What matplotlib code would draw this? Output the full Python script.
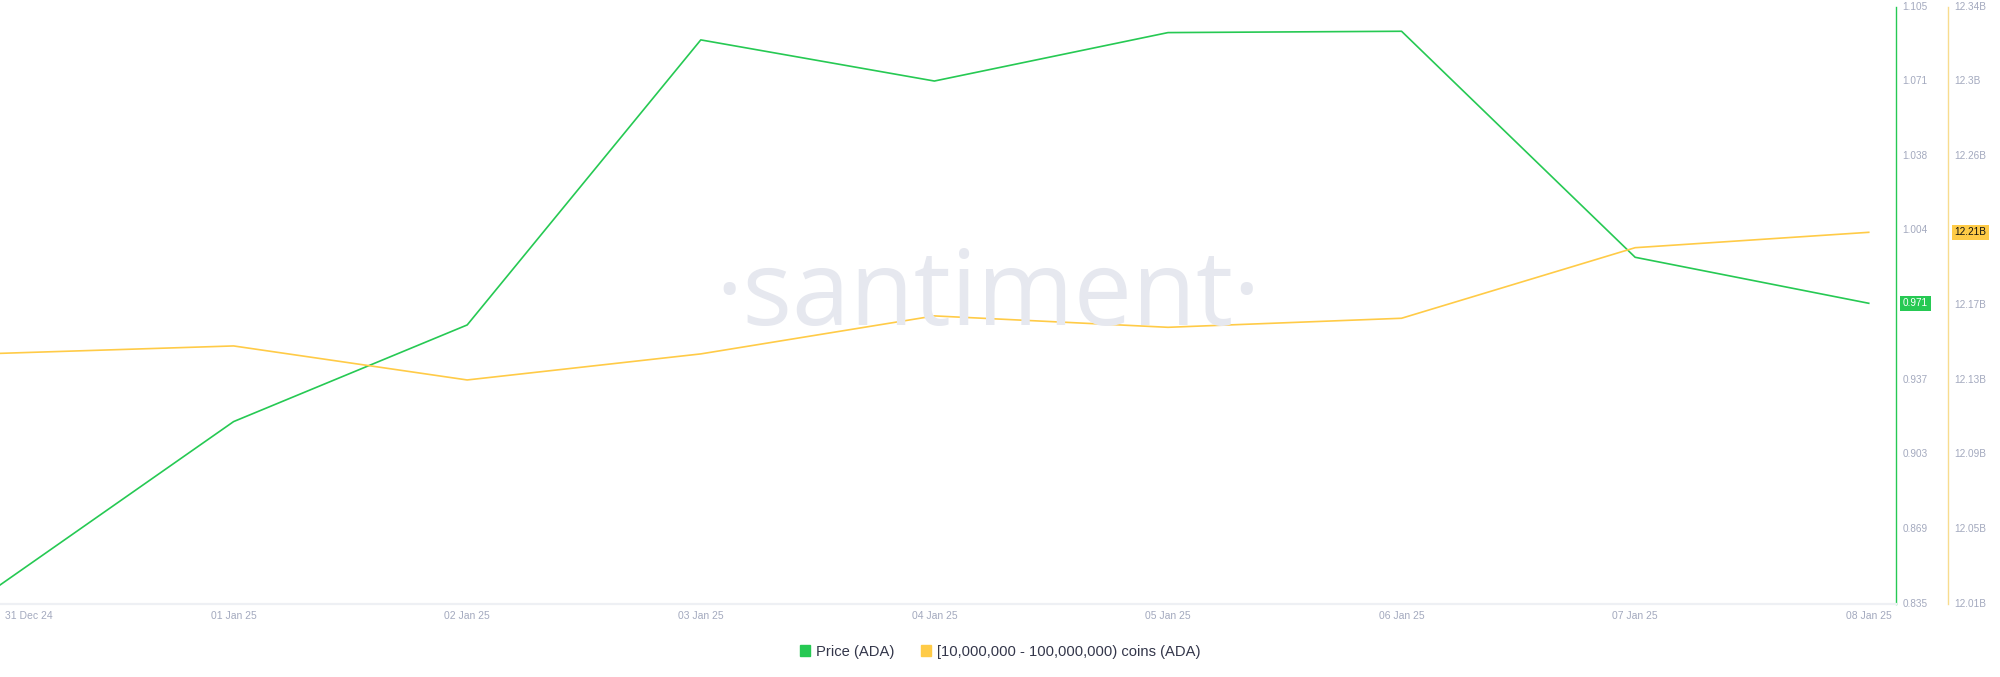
import numpy as np
import pandas as pd
import matplotlib
matplotlib.use("Agg")
from matplotlib import pyplot as plt
from matplotlib.patches import Patch
from matplotlib.transforms import ScaledTranslation
import matplotlib.dates as mdates

dates = pd.date_range("2024-12-31", "2025-01-08", freq="D")
price = [0.8434, 0.9173, 0.9610, 1.0899, 1.0713, 1.0932, 1.0938, 0.9916, 0.9708]
coins = [12.1483, 12.1524, 12.1336, 12.1480, 12.1690, 12.1627, 12.1677, 12.2067, 12.2152]
price_ticks = ["0.835", "0.869", "0.903", "0.937", "0.971", "1.004", "1.038", "1.071", "1.105"]
coin_ticks = ["12.01B", "12.05B", "12.09B", "12.13B", "12.17B", "12.21B", "12.26B", "12.3B", "12.34B"]
price_label = "0.971"
coin_label = "12.21B"

green = "#26c953"
yellow = "#ffcb47"
tick_color = "#a3a9be"

plt.rcParams['font.family'] = ['Liberation Sans', 'DejaVu Sans']

W, H = 2000, 677
fig = plt.figure(figsize=(W / 100, H / 100), dpi=100)
top, bottom, right = 6.5, 603.6, 1896
ax = fig.add_axes([0, 1 - bottom / H, right / W, (bottom - top) / H])
ax2 = ax.twinx()

ax.plot(dates, price, color=green, lw=1.2, zorder=3)
ax2.plot(dates, np.array(coins) * 1e9, color=yellow, lw=1.2, zorder=3)

ax.set_xlim(dates[0], dates[-1] + pd.Timedelta(hours=2.8))
ax.set_ylim(0.835, 1.105)
ax2.set_ylim(12.01e9, 12.34e9)

for a in (ax, ax2):
    for s in ("top", "left", "bottom", "right"):
        a.spines[s].set_visible(False)

ax.spines["bottom"].set_visible(True)
ax.spines["bottom"].set_color("#eef0f4")
ax.spines["bottom"].set_linewidth(1.6)

ax.yaxis.tick_right()
ax.spines["right"].set_visible(True)
ax.spines["right"].set_color(green)
ax.spines["right"].set_linewidth(1.0)
ax2.spines["right"].set_visible(True)
ax2.spines["right"].set_color("#f8dc8e")
ax2.spines["right"].set_linewidth(1.0)
ax2.spines["right"].set_position(("outward", 52 * 0.72))

ax.set_yticks(np.linspace(0.835, 1.105, len(price_ticks)))
ax.set_yticklabels(price_ticks)
ax2.set_yticks(np.linspace(12.01e9, 12.34e9, len(coin_ticks)))
ax2.set_yticklabels(coin_ticks)
ax.tick_params(axis="y", length=0, pad=4.5, labelsize=7.2, labelcolor=tick_color)
ax2.tick_params(axis="y", length=0, pad=4.5, labelsize=7.2, labelcolor=tick_color)
for lab in ax.get_yticklabels() + ax2.get_yticklabels():
    lab.set_verticalalignment("center")

ax.set_xticks(dates)
ax.xaxis.set_major_formatter(mdates.DateFormatter("%d %b %y"))
ax.tick_params(axis="x", length=0, pad=5, labelsize=7.5, labelcolor=tick_color)
first = ax.get_xticklabels()[0]
first.set_horizontalalignment("left")
first.set_transform(first.get_transform() + ScaledTranslation(0.05, 0, fig.dpi_scale_trans))

ax.annotate(price_label, xy=(1, price[-1]), xycoords=("axes fraction", "data"),
            xytext=(5, 0), textcoords="offset points", ha="left", va="center",
            fontsize=7.2, color="white", zorder=5, annotation_clip=False,
            bbox=dict(boxstyle="square,pad=0.25", fc=green, ec="none"))
ax2.annotate(coin_label, xy=(1, coins[-1] * 1e9), xycoords=("axes fraction", "data"),
             xytext=(42, 0), textcoords="offset points", ha="left", va="center",
             fontsize=7.2, color="#111111", zorder=5, annotation_clip=False,
             bbox=dict(boxstyle="square,pad=0.25", fc=yellow, ec="none"))

fig.text(0.494, 1 - 298 / H, "\u00b7santiment\u00b7", fontsize=75, color="#e6e8ef",
         ha="center", va="center", family=["Open Sans", "DejaVu Sans"], zorder=0)

handles = [Patch(color=green), Patch(color=yellow)]
labels = ["Price (ADA)", "[10,000,000 - 100,000,000) coins (ADA)"]
fig.legend(handles, labels, loc="center", bbox_to_anchor=(0.5, 1 - 651.7 / H), ncol=2,
           frameon=False, handlelength=0.7, handleheight=0.7, handletextpad=0.4,
           columnspacing=1.8, fontsize=10.6, labelcolor="#33364a")

fig.savefig("out.png", dpi=100)
